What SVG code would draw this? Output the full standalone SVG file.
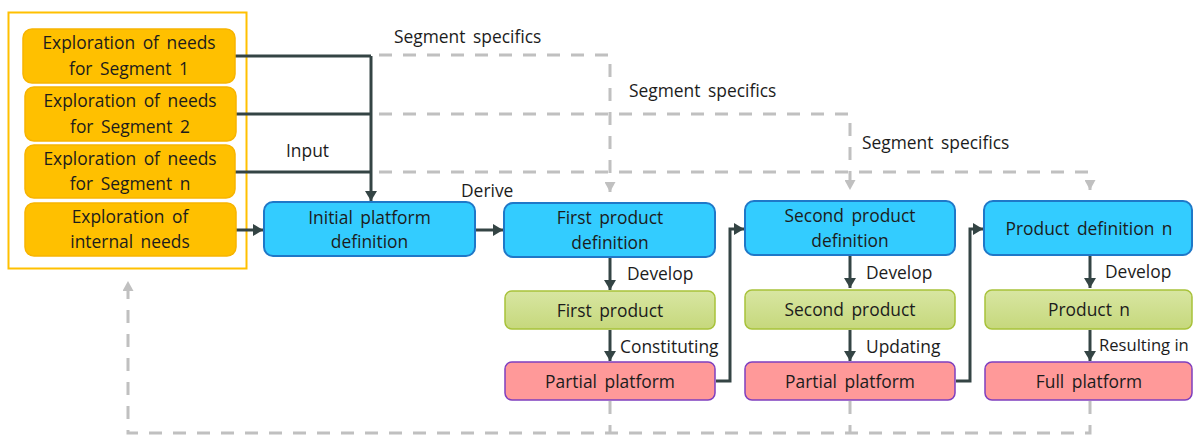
<svg xmlns="http://www.w3.org/2000/svg" width="1194" height="437" viewBox="0 0 1194 437">
  <style>
    text { font-family: "Open Sans", "Liberation Sans", sans-serif; font-size: 17.4px; fill: #1c1c1c; word-spacing: 3px; }
    .c { text-anchor: middle; }
    .tight { word-spacing: 0; font-size: 16.6px; }
    .orange { fill: #FFC000; stroke: #F7B400; stroke-width: 1.5; }
    .blue { fill: #33CCFF; stroke: #1F78C8; stroke-width: 2; }
    .green { fill: url(#greenFill); stroke: #A8C23A; stroke-width: 1.5; }
    .red { fill: #FF9999; stroke: #7F3FBF; stroke-width: 1.5; }
    .flow { fill: none; stroke: #344444; stroke-width: 3; }
    .spec { fill: none; stroke: #C0C0C0; stroke-width: 3; stroke-dasharray: 13 11; }
  </style>
  <defs>
    <linearGradient id="greenFill" x1="0" y1="0" x2="0" y2="1">
      <stop offset="0" stop-color="#D8E6A2"/>
      <stop offset="1" stop-color="#C6D87C"/>
    </linearGradient>
    <marker id="arrowDark" markerUnits="userSpaceOnUse" markerWidth="12" markerHeight="12" refX="10" refY="6" orient="auto">
      <path d="M0,0 L10,6 L0,12 z" fill="#344444"/>
    </marker>
    <marker id="arrowGray" markerUnits="userSpaceOnUse" markerWidth="11" markerHeight="11" refX="10" refY="5.5" orient="auto">
      <path d="M0,0 L10,5.5 L0,11 z" fill="#C0C0C0"/>
    </marker>
  </defs>

  <!-- needs exploration frame -->
  <rect id="needs-frame" x="8.5" y="12.5" width="238" height="256" fill="none" stroke="#FFC000" stroke-width="2"/>

  <!-- connectors -->
  <g id="connectors">
    <!-- segment-specific feeds -->
    <path class="spec" d="M379,55 H610 V192" marker-end="url(#arrowGray)"/>
    <path class="spec" d="M379,114 H850 V190" marker-end="url(#arrowGray)"/>
    <path class="spec" d="M379,172 H1090 V190" marker-end="url(#arrowGray)"/>
    <!-- platform feedback loop -->
    <path class="spec" d="M610,401 V433"/>
    <path class="spec" d="M850,401 V433"/>
    <path class="spec" d="M1090,401 V433 H128 V281" marker-end="url(#arrowGray)"/>

    <!-- inputs into the initial platform -->
    <path class="flow" d="M235,56 H371"/>
    <path class="flow" d="M236,114 H371"/>
    <path class="flow" d="M235,172 H371"/>
    <path class="flow" d="M371,56 V201" marker-end="url(#arrowDark)"/>
    <path class="flow" d="M236,230 H263" marker-end="url(#arrowDark)"/>
    <path class="flow" d="M476,230 H503" marker-end="url(#arrowDark)"/>

    <!-- column 1 -->
    <path class="flow" d="M610,258 V290" marker-end="url(#arrowDark)"/>
    <path class="flow" d="M610,330 V361" marker-end="url(#arrowDark)"/>
    <path class="flow" d="M716,381 H730 V229 H744" marker-end="url(#arrowDark)"/>

    <!-- column 2 -->
    <path class="flow" d="M850,256 V288" marker-end="url(#arrowDark)"/>
    <path class="flow" d="M850,330 V361" marker-end="url(#arrowDark)"/>
    <path class="flow" d="M956,381 H970 V229 H983" marker-end="url(#arrowDark)"/>

    <!-- column 3 -->
    <path class="flow" d="M1090,256 V288" marker-end="url(#arrowDark)"/>
    <path class="flow" d="M1090,330 V361" marker-end="url(#arrowDark)"/>
  </g>

  <!-- connector labels -->
  <g id="labels">
    <text x="394" y="43">Segment specifics</text>
    <text x="629" y="97">Segment specifics</text>
    <text x="862" y="149">Segment specifics</text>
    <text x="286" y="157">Input</text>
    <text x="461" y="197">Derive</text>
    <text x="627" y="280">Develop</text>
    <text x="866" y="279">Develop</text>
    <text x="1105" y="278">Develop</text>
    <text x="620" y="353">Constituting</text>
    <text x="866" y="353">Updating</text>
    <text class="tight" x="1099" y="351">Resulting in</text>
  </g>

  <!-- needs exploration -->
  <g id="needs-seg1">
    <rect class="orange" x="23" y="29" width="212" height="54" rx="9"/>
    <text class="c" x="129" y="49">Exploration of needs</text>
    <text class="c" x="129" y="75">for Segment 1</text>
  </g>
  <g id="needs-seg2">
    <rect class="orange" x="25" y="87" width="211" height="54" rx="9"/>
    <text class="c" x="130" y="107">Exploration of needs</text>
    <text class="c" x="130" y="133">for Segment 2</text>
  </g>
  <g id="needs-segn">
    <rect class="orange" x="25" y="145" width="210" height="53" rx="9"/>
    <text class="c" x="130" y="165">Exploration of needs</text>
    <text class="c" x="130" y="190">for Segment n</text>
  </g>
  <g id="needs-internal">
    <rect class="orange" x="25" y="203" width="211" height="53" rx="9"/>
    <text class="c" x="130" y="223">Exploration of</text>
    <text class="c" x="130" y="248">internal needs</text>
  </g>

  <!-- definitions -->
  <g id="initial-platform">
    <rect class="blue" x="264" y="202" width="211" height="54" rx="9"/>
    <text class="c" x="369.5" y="224">Initial platform</text>
    <text class="c" x="369.5" y="248">definition</text>
  </g>
  <g id="first-product-def">
    <rect class="blue" x="504" y="203" width="211" height="54" rx="9"/>
    <text class="c" x="610" y="224">First product</text>
    <text class="c" x="610" y="249">definition</text>
  </g>
  <g id="second-product-def">
    <rect class="blue" x="745" y="201" width="210" height="54" rx="9"/>
    <text class="c" x="850" y="222">Second product</text>
    <text class="c" x="850" y="247">definition</text>
  </g>
  <g id="product-def-n">
    <rect class="blue" x="984" y="201" width="208" height="54" rx="9"/>
    <text class="c" x="1089" y="235">Product definition n</text>
  </g>

  <!-- products -->
  <g id="first-product">
    <rect class="green" x="505" y="291" width="210" height="38" rx="7"/>
    <text class="c" x="610" y="317">First product</text>
  </g>
  <g id="second-product">
    <rect class="green" x="745" y="290" width="210" height="39" rx="7"/>
    <text class="c" x="850" y="316">Second product</text>
  </g>
  <g id="product-n">
    <rect class="green" x="985" y="290" width="207" height="39" rx="7"/>
    <text class="c" x="1089" y="316">Product n</text>
  </g>

  <!-- platforms -->
  <g id="partial-platform-1">
    <rect class="red" x="505" y="362" width="210" height="38" rx="7"/>
    <text class="c" x="610" y="388">Partial platform</text>
  </g>
  <g id="partial-platform-2">
    <rect class="red" x="745" y="362" width="210" height="38" rx="7"/>
    <text class="c" x="850" y="388">Partial platform</text>
  </g>
  <g id="full-platform">
    <rect class="red" x="985" y="362" width="207" height="38" rx="7"/>
    <text class="c" x="1089" y="388">Full platform</text>
  </g>
</svg>
